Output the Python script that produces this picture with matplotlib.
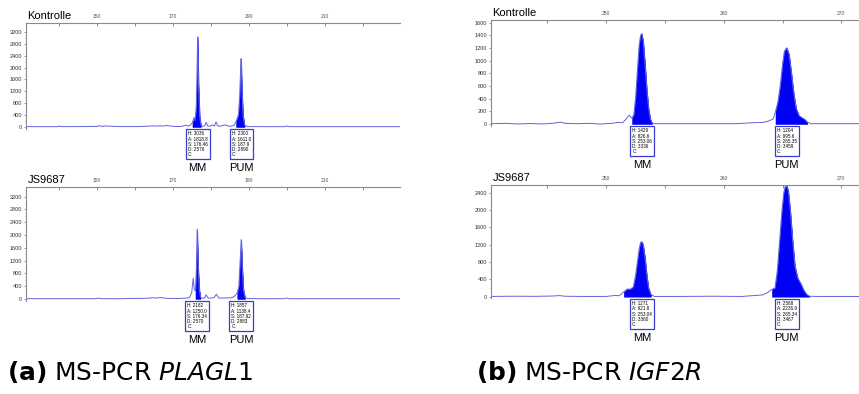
import matplotlib.pyplot as plt
import numpy as np
from matplotlib.ticker import FixedLocator

plt.rcParams['font.family'] = ['Liberation Sans', 'DejaVu Sans']
plt.rcParams['mathtext.fontset'] = 'dejavusans'

# ---- data (size in bp, height in RFU) ----
# (a) PLAGL1, Kontrolle
a_ctrl_x = [131.3, 136, 139.6, 140.1, 140.6, 146, 150.0, 150.6, 151.3, 152.0, 156, 161, 163.0, 164.5,
            165.8, 166.6, 167.4, 168.2, 170.5, 172.2, 173.3, 174.0, 174.6, 175.1, 175.5, 175.8, 176.1,
            176.3, 176.46, 176.7, 177.0, 177.3, 177.7, 178.3, 178.7, 179.1, 179.7, 180.3, 180.9, 181.3,
            181.7, 182.4, 183.5, 185.0, 186.1, 186.6, 186.9, 187.2, 187.5, 187.75, 187.9, 188.1, 188.4,
            188.8, 189.6, 193, 199.4, 200.0, 200.6, 212, 229.7]
a_ctrl_y = [12, 12, 12, 35, 12, 15, 20, 45, 20, 35, 15, 15, 25, 40,
            30, 45, 30, 50, 15, 20, 60, 30, 70, 150, 320, 220, 700,
            1900, 3036, 1400, 350, 80, 20, 40, 160, 40, 25, 70, 35, 170,
            40, 25, 70, 20, 60, 200, 300, 420, 1000, 1900, 2300, 1300, 400,
            60, 15, 12, 12, 35, 12, 12, 12]
# (a) PLAGL1, JS9687
a_js_x = [131.3, 140, 149.8, 150.5, 151.2, 156, 163.5, 164.5, 165.5, 166.5, 167.5, 168.3, 171, 173,
          174.3, 174.9, 175.3, 175.6, 175.9, 176.1, 176.34, 176.6, 176.9, 177.2, 177.7, 178.3, 178.7,
          179.2, 180.3, 180.9, 181.4, 182.0, 183.5, 185.5, 186.3, 186.9, 187.3, 187.6, 187.92, 188.2,
          188.5, 188.9, 189.6, 193, 199.4, 200.0, 200.6, 212, 229.7]
a_js_y = [10, 10, 10, 30, 10, 10, 25, 40, 30, 45, 35, 20, 15, 25,
          40, 200, 650, 300, 250, 900, 2182, 1000, 300, 60, 25, 35, 130,
          30, 30, 60, 150, 30, 30, 40, 100, 200, 400, 1100, 1857, 1000,
          300, 60, 15, 10, 10, 30, 10, 10, 10]
# (b) IGF2R, Kontrolle
b_ctrl_x = [240.2, 241.5, 242.5, 243.5, 244.5, 245.5, 246.1, 246.5, 247.5, 248.5, 249.5, 250.5, 251.0,
            251.4, 251.7, 251.95, 252.2, 252.35, 252.5, 252.65, 252.8, 252.92, 253.03, 253.15, 253.3,
            253.45, 253.6, 253.75, 253.9, 254.2, 255, 257, 259, 261, 262.5, 263.3, 263.8, 264.2, 264.4,
            264.6, 264.8, 265.0, 265.15, 265.35, 265.55, 265.75, 265.95, 266.15, 266.4, 266.65, 266.9,
            267.1, 267.4, 268.5, 271.5]
b_ctrl_y = [5, 10, 0, 8, 0, 12, 30, 10, 5, 10, 0, 10, 25,
            20, 80, 140, 90, 150, 420, 850, 1250, 1400, 1429, 1300, 950,
            550, 250, 80, 15, 5, 5, 5, 5, 5, 20, 25, 45, 80, 200,
            350, 600, 950, 1150, 1204, 1100, 800, 480, 250, 130, 100, 70,
            30, 5, 5, 5]
# (b) IGF2R, JS9687
b_js_x = [240.2, 242, 244, 245.5, 246.0, 246.5, 248, 250, 250.8, 251.1, 251.5, 251.8, 252.0, 252.3,
          252.5, 252.65, 252.8, 252.92, 253.04, 253.15, 253.3, 253.45, 253.6, 253.8, 254.1, 256, 259,
          261.5, 262.8, 263.3, 263.7, 264.1, 264.35, 264.55, 264.75, 264.95, 265.1, 265.22, 265.34,
          265.48, 265.65, 265.85, 266.05, 266.3, 266.55, 266.8, 267.05, 267.3, 268, 271.5]
b_js_y = [5, 10, 8, 15, 25, 10, 5, 5, 30, 20, 110, 180, 170, 220,
          500, 800, 1100, 1250, 1271, 1180, 900, 500, 200, 50, 5, 5, 10,
          5, 30, 40, 90, 170, 200, 600, 1300, 2000, 2400, 2540, 2568,
          2450, 2000, 1300, 700, 420, 300, 150, 50, 10, 5, 5]

# called peaks (range that is filled) and their info boxes
a_ctrl_win = [(175.0, 177.5), (186.5, 188.9)]
a_js_win = [(175.85, 177.4), (186.5, 188.9)]
b_ctrl_win = [(252.2, 254.0), (264.3, 267.2)]
b_js_win = [(251.3, 254.0), (264.1, 267.3)]

a_ctrl_pk = [176.46, 187.9]
a_js_pk = [176.34, 187.92]
b_ctrl_pk = [253.06, 265.35]
b_js_pk = [253.04, 265.34]

a_ctrl_info = ["H: 3036\nA: 1818.8\nS: 176.46\nD: 2576\nC:", "H: 2300\nA: 1611.0\nS: 187.9\nD: 2890\nC:"]
a_js_info = ["H: 2182\nA: 1250.0\nS: 176.34\nD: 2570\nC:", "H: 1857\nA: 1138.4\nS: 187.92\nD: 2883\nC:"]
b_ctrl_info = ["H: 1429\nA: 826.6\nS: 253.06\nD: 3336\nC:", "H: 1204\nA: 995.6\nS: 265.35\nD: 3459\nC:"]
b_js_info = ["H: 1271\nA: 921.8\nS: 253.04\nD: 3360\nC:", "H: 2568\nA: 2236.9\nS: 265.34\nD: 3467\nC:"]
peak_names = ["MM", "PUM"]

# Achsenbeschriftung
a_xticks = [150, 170, 190, 210]
a_xminor = [140, 160, 180, 200, 220]
a_yticks = [0, 400, 800, 1200, 1600, 2000, 2400, 2800, 3200]
b_xticks = [250, 260, 270]
b_xminor = [245, 255, 265]
b_ctrl_yticks = [0, 200, 400, 600, 800, 1000, 1200, 1400, 1600]
b_js_yticks = [0, 400, 800, 1200, 1600, 2000, 2400]

W, H = 859, 394
fig = plt.figure(figsize=(W / 100, H / 100), dpi=100)


def axes_px(left, top, right, bottom):
    return fig.add_axes([left / W, 1 - bottom / H, (right - left) / W, (bottom - top) / H])


def panel(ax, name, x, y, wins, pks, infos, xlim, ylim, xmaj, xmin, ymaj):
    x = np.array(x)
    y = np.array(y)
    ax.plot(x, y, color='#6262dc', lw=0.7)
    for lo, hi in wins:
        m = (x >= lo) & (x <= hi)
        ax.fill_between(x[m], 0, y[m], color='#0000f5', lw=0.4, edgecolor='#0000f5')
    ax.set_xlim(xlim)
    ax.set_ylim(ylim)
    ax.xaxis.tick_top()
    ax.xaxis.set_major_locator(FixedLocator(xmaj))
    ax.xaxis.set_minor_locator(FixedLocator(xmin))
    ax.yaxis.set_major_locator(FixedLocator(ymaj))
    step = (ymaj[1] - ymaj[0]) / 2
    ax.yaxis.set_minor_locator(FixedLocator([t + step for t in ymaj[:-1]]))
    ax.tick_params(axis='x', which='both', direction='in', length=2.5, width=0.6, color='#777777',
                   labelsize=3.6, labelcolor='#555555', pad=3)
    ax.tick_params(axis='y', which='major', direction='out', length=1.8, width=0.5, color='#777777',
                   labelsize=4, labelcolor='#333333', pad=1)
    ax.tick_params(axis='y', which='minor', direction='out', length=1.0, width=0.4, color='#777777')
    for s in ['bottom', 'right']:
        ax.spines[s].set_visible(False)
    for s in ['top', 'left']:
        ax.spines[s].set_color('#8a8a8a')
        ax.spines[s].set_linewidth(0.8)
    ax.patch.set_alpha(0)
    ax.text(0.004, 1.015, name, transform=ax.transAxes, ha='left', va='bottom', fontsize=8)
    for s, txt, lab in zip(pks, infos, peak_names):
        ax.annotate(txt, xy=(s, 0), xytext=(0, -3.2), textcoords='offset points', ha='center', va='top',
                    fontsize=3.3, linespacing=1.05, multialignment='left', annotation_clip=False,
                    bbox=dict(boxstyle='square,pad=0.45', fc='white', ec='#3b3bd0', lw=0.9))
        ax.annotate(lab, xy=(s, 0), xytext=(0, -26), textcoords='offset points', ha='center', va='top',
                    fontsize=8, annotation_clip=False)


# (a) PLAGL1
ax1 = axes_px(26, 23, 400, 128.5)
panel(ax1, 'Kontrolle', a_ctrl_x, a_ctrl_y, a_ctrl_win, a_ctrl_pk, a_ctrl_info,
      (131.3, 229.7), (-50, 3500), a_xticks, a_xminor, a_yticks)
ax2 = axes_px(26, 187, 400, 300.6)
panel(ax2, 'JS9687', a_js_x, a_js_y, a_js_win, a_js_pk, a_js_info,
      (131.3, 229.7), (-50, 3500), a_xticks, a_xminor, a_yticks)

# (b) IGF2R
ax3 = axes_px(491, 20, 859, 125.9)
panel(ax3, 'Kontrolle', b_ctrl_x, b_ctrl_y, b_ctrl_win, b_ctrl_pk, b_ctrl_info,
      (240.2, 271.5), (-30, 1643), b_xticks, b_xminor, b_ctrl_yticks)
ax4 = axes_px(491, 185, 859, 298.4)
panel(ax4, 'JS9687', b_js_x, b_js_y, b_js_win, b_js_pk, b_js_info,
      (240.2, 271.5), (-40, 2578), b_xticks, b_xminor, b_js_yticks)

# Unterschriften
fig.text(7 / W, 1 - 372 / H, r'$\mathbf{(a)}$ MS-PCR $\mathit{PLAGL1}$', family='DejaVu Sans',
         fontsize=17.9, va='center', ha='left')
fig.text(476 / W, 1 - 372 / H, r'$\mathbf{(b)}$ MS-PCR $\mathit{IGF2R}$', family='DejaVu Sans',
         fontsize=17.9, va='center', ha='left')

fig.savefig('out.png', dpi=100)
